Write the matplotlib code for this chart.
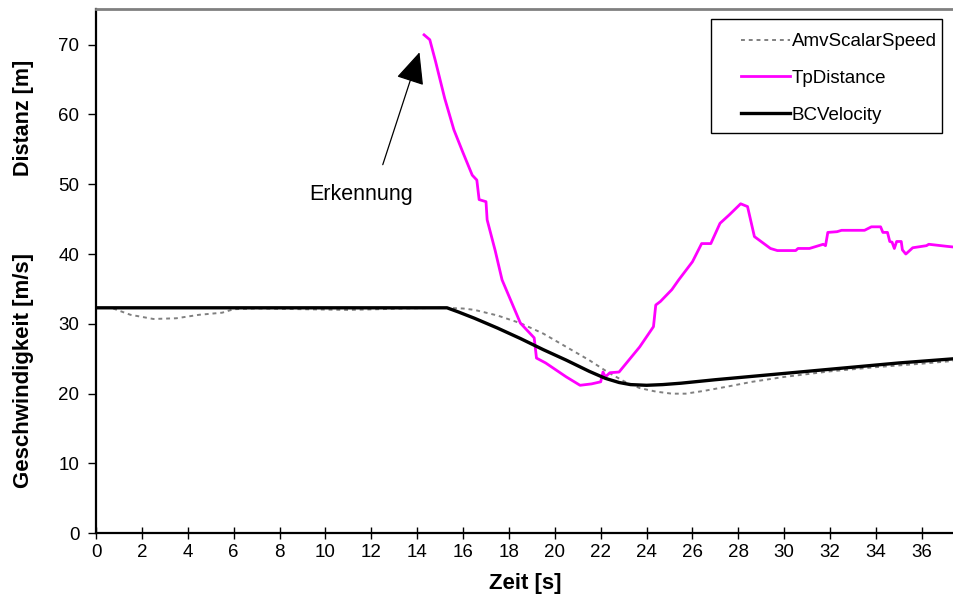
import numpy as np
import matplotlib as mpl
mpl.use('Agg')
import matplotlib.pyplot as plt
from matplotlib.patches import Rectangle

mpl.rcParams.update({
    "font.family": ["Liberation Sans", "DejaVu Sans"],
    "xtick.labelsize": 13.5,
    "ytick.labelsize": 13.5,
})

# BCVelocity [m/s]
bc_t = [0, 15.3, 15.8, 16.5, 17.5, 18.5, 19.5, 20.5, 21.5, 22.2, 22.8, 23.3,
        24.0, 24.7, 25.5, 27, 29, 31, 33, 35, 37.4]
bc_v = [32.3, 32.3, 31.7, 30.8, 29.4, 27.9, 26.3, 24.8, 23.2, 22.2, 21.6, 21.3,
        21.2, 21.3, 21.5, 22.0, 22.6, 23.2, 23.8, 24.4, 25.0]

# AmvScalarSpeed [m/s]
amv_t = [0.75, 1.5, 2.5, 3.5, 4.5, 5.5, 6.0, 7, 9, 11, 12.3, 13.5, 15, 16, 16.5,
         17.5, 18.5, 19.5, 20.5, 21.5, 22.3, 23.0, 23.7, 24.4, 25.1, 25.7, 26.5,
         27.5, 28.6, 30, 32, 34, 36, 37.4]
amv_v = [32.2, 31.3, 30.7, 30.8, 31.3, 31.6, 32.1, 32.2, 32.1, 32.0, 32.1, 32.2,
         32.3, 32.2, 32.0, 31.2, 30.1, 28.6, 26.7, 24.8, 23.1, 21.8, 20.8, 20.3,
         20.0, 20.0, 20.4, 21.0, 21.7, 22.4, 23.2, 23.8, 24.3, 24.7]

# TpDistance [m]
tp_t = [14.3, 14.55, 14.8, 15.2, 15.6, 16.0, 16.4, 16.6, 16.7, 17.0, 17.05, 17.4,
        17.7, 18.1, 18.5, 19.1, 19.2, 19.6, 20.5, 21.1, 21.6, 22.0, 22.1, 22.2,
        22.4, 22.8, 23.7, 24.3, 24.4, 24.6, 25.1, 25.4, 26.0, 26.4, 26.8, 27.2,
        27.6, 28.1, 28.4, 28.7, 29.4, 29.7, 30.5, 30.6, 31.1, 31.7, 31.8, 31.9,
        32.3, 32.5, 33.2, 33.5, 33.8, 34.2, 34.3, 34.5, 34.6, 34.7, 34.8, 34.9,
        35.1, 35.15, 35.3, 35.6, 36.2, 36.3, 37.1, 37.4]
tp_d = [71.4, 70.7, 67.6, 62.3, 57.8, 54.5, 51.3, 50.6, 47.8, 47.5, 44.9, 40.5,
        36.3, 33.2, 30.1, 28.0, 25.1, 24.4, 22.4, 21.2, 21.4, 21.7, 23.1, 22.4,
        23.0, 23.1, 26.7, 29.6, 32.7, 33.2, 34.9, 36.3, 38.9, 41.5, 41.5, 44.4,
        45.6, 47.2, 46.8, 42.5, 40.8, 40.5, 40.5, 40.8, 40.8, 41.4, 41.2, 43.1,
        43.2, 43.4, 43.4, 43.4, 43.9, 43.9, 43.1, 43.1, 41.8, 41.7, 40.8, 41.8,
        41.8, 40.6, 40.0, 40.9, 41.2, 41.4, 41.1, 41.0]

xticks = np.arange(0, 37, 2)
yticks = np.arange(0, 71, 10)

fig = plt.figure(figsize=(9.54, 6.04), dpi=100)
ax = fig.add_axes([96 / 954, (604 - 533.3) / 604, 858 / 954, 524.3 / 604])

ax.plot(amv_t, amv_v, color='#808080', lw=1.4, ls=(0, (2, 2)), label='AmvScalarSpeed')
ax.plot(tp_t, tp_d, color='#ff00ff', lw=2.0, label='TpDistance')
ax.plot(bc_t, bc_v, color='black', lw=2.4, label='BCVelocity')

ax.set_xlim(0, 37.4)
ax.set_ylim(0, 75.1)
ax.set_xticks(xticks)
ax.set_yticks(yticks)
ax.tick_params(axis='x', direction='inout', length=8, width=1, pad=4)
ax.tick_params(axis='y', direction='out', length=6, width=1, pad=6)

for s in ['left', 'bottom']:
    ax.spines[s].set_linewidth(1.6)
ax.spines['top'].set_color('#808080')
ax.spines['top'].set_linewidth(2)
ax.spines['right'].set_visible(False)

ax.set_xlabel('Zeit [s]', fontsize=16, fontweight='bold', labelpad=8)
fig.text(24 / 954, 1 - 118 / 604, 'Distanz [m]', rotation=90, fontsize=15.5,
         fontweight='bold', ha='center', va='center')
fig.text(24 / 954, 1 - 370 / 604, 'Geschwindigkeit [m/s]', rotation=90, fontsize=16,
         fontweight='bold', ha='center', va='center')

# Erkennung annotation
ax.text(11.55, 48.6, 'Erkennung', fontsize=15.5, ha='center', va='center')
ax.annotate('', xy=(14.1, 68.9), xytext=(12.5, 52.8),
            arrowprops=dict(arrowstyle='-|>,head_length=1.0,head_width=0.45',
                            mutation_scale=20, lw=0.9, color='black',
                            shrinkA=0, shrinkB=0))

# legend box
ax.add_patch(Rectangle((0.717, 0.7635), 0.269, 0.2175, transform=ax.transAxes,
                       fill=False, edgecolor='black', lw=1, zorder=5))
ax.legend(loc='upper left', bbox_to_anchor=(0.752, 0.954), frameon=False,
          borderpad=0, borderaxespad=0, fontsize=13.5, handlelength=2.6,
          handletextpad=0.1, labelspacing=1.05)

fig.savefig('out.png', dpi=100)
